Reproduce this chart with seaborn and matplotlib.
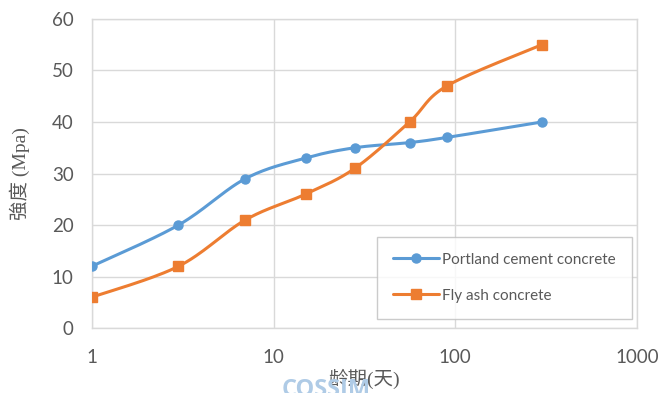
import numpy as np
import seaborn as sns
import matplotlib.pyplot as plt
from matplotlib.lines import Line2D

# Data
days = [1, 3, 7, 15, 28, 56, 90, 300]
portland = [12, 20, 29, 33, 35, 36, 37, 40]
fly_ash = [6, 12, 21, 26, 31, 40, 47, 55]
series_names = ['Portland cement concrete', 'Fly ash concrete']
colors = ['#5B9BD5', '#ED7D31']
markers = ['o', 's']
y_ticks = [0, 10, 20, 30, 40, 50, 60]
x_ticks = [1, 10, 100, 1000]


def smooth_curve(x, y, n=30):
    # Excel-style smoothed line: Catmull-Rom bezier in screen-like space (log x)
    u = np.log10(np.asarray(x, float)) * 182.0
    v = np.asarray(y, float) * 5.15
    P = np.column_stack([u, v])
    P = np.vstack([P[0], P, P[-1]])
    out = []
    t = np.linspace(0, 1, n)[:, None]
    for i in range(1, len(P) - 2):
        p0, p1, p2, p3 = P[i - 1], P[i], P[i + 1], P[i + 2]
        c1 = p1 + (p2 - p0) / 6
        c2 = p2 - (p3 - p1) / 6
        seg = ((1 - t) ** 3) * p1 + 3 * ((1 - t) ** 2) * t * c1 + 3 * (1 - t) * t ** 2 * c2 + t ** 3 * p2
        out.append(seg if i == 1 else seg[1:])
    out = np.vstack(out)
    return 10 ** (out[:, 0] / 182.0), out[:, 1] / 5.15


sns.set_theme(style='white')
plt.rcParams['font.family'] = ['Lato', 'DejaVu Sans']

fig = plt.figure(figsize=(6.65, 3.93), dpi=100)
ax = fig.add_axes([0.138, 0.165, 0.82, 0.787])

handles = []
for vals, name, c, m in zip([portland, fly_ash], series_names, colors, markers):
    xs, ys = smooth_curve(days, vals)
    sns.lineplot(x=xs, y=ys, ax=ax, color=c, lw=2.2, sort=False, estimator=None, legend=False)
    ax.plot(days, vals, ls='none', marker=m, ms=6.5, color=c, mec=c, zorder=3)
    handles.append(Line2D([], [], color=c, lw=2.2, marker=m, ms=6.5, label=name))

ax.set_xscale('log')
ax.set_xlim(1, 1000)
ax.set_ylim(0, 60)
ax.set_xticks(x_ticks)
ax.set_xticklabels([str(t) for t in x_ticks])
ax.set_yticks(y_ticks)
ax.minorticks_off()
ax.grid(True, color='#D9D9D9', lw=1)
ax.set_axisbelow(True)
for s in ax.spines.values():
    s.set_color('#D9D9D9')
    s.set_linewidth(1)
ax.tick_params(axis='both', length=0, labelsize=13.5, labelcolor='#595959')
ax.tick_params(axis='y', pad=13)
ax.tick_params(axis='x', pad=15)

ax.set_ylabel('強度 (Mpa)', family=['Liberation Serif', 'Noto Sans CJK SC'],
              fontsize=14, color='#595959', labelpad=16)
ax.set_xlabel('龄期(天)', family=['Liberation Serif', 'Noto Sans CJK SC'],
              fontsize=14, color='#595959', labelpad=2)

leg = ax.legend(handles=handles, loc='lower right', bbox_to_anchor=(0.99, 0.03),
                fontsize=11, frameon=True, fancybox=False, edgecolor='#BFBFBF',
                labelspacing=1.45, borderpad=1.05, handlelength=3.0, handletextpad=0.2,
                borderaxespad=0)
leg.get_frame().set_linewidth(1)
for t in leg.get_texts():
    t.set_color('#595959')

# watermark
fig.text(0.49, 1 - 378 / 393, 'COSSIM', ha='center', va='top', fontsize=17,
         fontweight='bold', color='#AFCBE6', family=['Open Sans', 'DejaVu Sans'])

fig.savefig('out.png', dpi=100)
